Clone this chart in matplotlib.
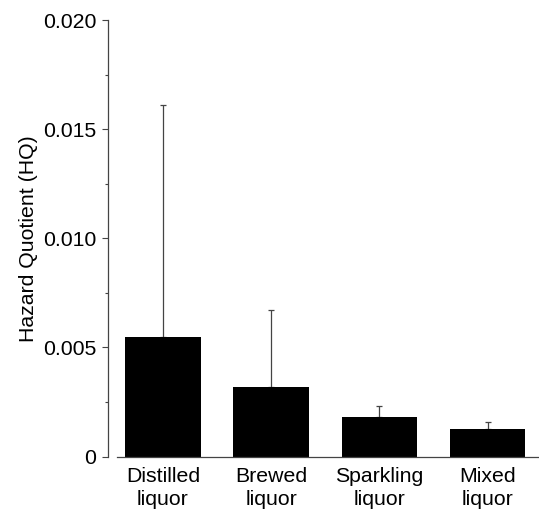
import numpy as np
import matplotlib
matplotlib.use('Agg')
import matplotlib.pyplot as plt
from matplotlib.ticker import FuncFormatter, MultipleLocator

plt.rcParams['font.family'] = ['Liberation Sans', 'DejaVu Sans']

categories = ['Distilled\nliquor', 'Brewed\nliquor', 'Sparkling\nliquor', 'Mixed\nliquor']
hq_mean = [0.00547, 0.00320, 0.00180, 0.00128]
hq_sd = [0.01062, 0.00350, 0.00052, 0.00029]

fig = plt.figure(figsize=(5.39, 5.11), dpi=100)
ax = fig.add_axes([117 / 539, 54.5 / 511, 422 / 539, 436.5 / 511])

x = np.arange(len(categories))
ax.bar(x, hq_mean, width=0.70, color='black', zorder=2)
ax.errorbar(x, hq_mean, yerr=[np.zeros(len(hq_sd)), hq_sd], fmt='none',
            ecolor='#444444', elinewidth=0.9, capsize=2.2, capthick=0.9, zorder=1)

ax.set_xlim(-0.425, 3.475)
ax.set_ylim(0, 0.020)
ax.set_xticks(x)
ax.set_xticklabels(categories, fontsize=15.3, linespacing=1.3)
ax.tick_params(axis='x', length=0, pad=7.5)

ax.yaxis.set_major_locator(MultipleLocator(0.005))
ax.yaxis.set_minor_locator(MultipleLocator(0.0025))
ax.yaxis.set_major_formatter(FuncFormatter(lambda v, p: '0' if abs(v) < 1e-12 else '%.3f' % v))
ax.tick_params(axis='y', which='major', length=4.3, width=0.8, color='#444444', labelsize=15.3, pad=4)
ax.tick_params(axis='y', which='minor', length=2.2, width=0.8, color='#444444')

ax.set_ylabel('Hazard Quotient (HQ)', fontsize=15.3, labelpad=4)

for s in ['top', 'right']:
    ax.spines[s].set_visible(False)
ax.spines['left'].set_position(('outward', 6.5))
for s in ['left', 'bottom']:
    ax.spines[s].set_color('#444444')
    ax.spines[s].set_linewidth(0.9)

fig.savefig('out.png', dpi=100)
plt.close()
